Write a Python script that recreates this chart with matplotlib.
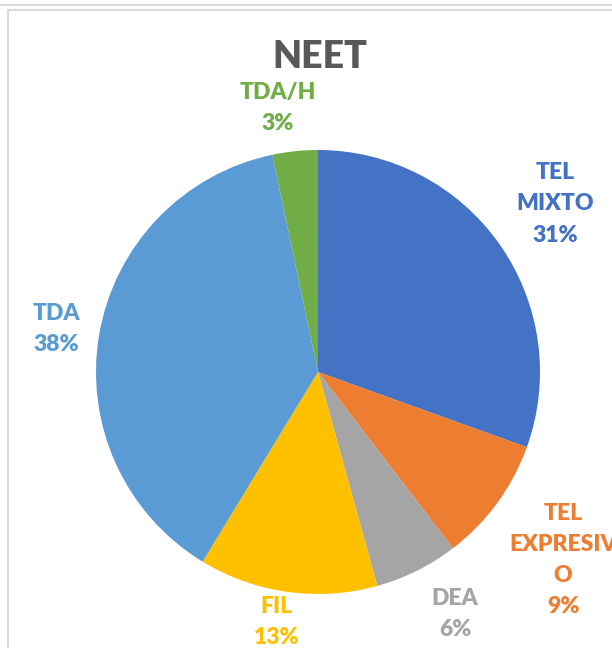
import matplotlib.pyplot as plt
from matplotlib.lines import Line2D

categorias = ['TEL\nMIXTO', 'TEL\nEXPRESIV\nO', 'DEA', 'FIL', 'TDA', 'TDA/H']
valores = [30.5, 9.1, 6.1, 13.0, 38.0, 3.3]
etiquetas_pct = ['31%', '9%', '6%', '13%', '38%', '3%']
colores = ['#4472C4', '#ED7D31', '#A5A5A5', '#FFC000', '#5B9BD5', '#70AD47']
# posicion de cada etiqueta (coordenadas del eje, radio = 1)
pos_etiquetas = [(1.068, 0.757), (1.104, -0.847), (0.617, -1.09),
                 (-0.185, -1.126), (-1.18, 0.194), (-0.18, 1.19)]

plt.rcParams['font.family'] = ['Lato', 'DejaVu Sans']

fig = plt.figure(figsize=(6.12, 6.48), dpi=100)

# marco gris del cuadro
W, H = 612, 648
borde = '#D9D9D9'
fig.add_artist(Line2D([0, 1], [1 - 5 / H, 1 - 5 / H], color=borde, lw=1.5))
fig.add_artist(Line2D([8 / W, 1], [1 - 10 / H, 1 - 10 / H], color=borde, lw=1.5))
fig.add_artist(Line2D([8 / W, 8 / W], [0, 1 - 10 / H], color=borde, lw=1.5))

ax = fig.add_axes([96 / W, 54 / H, 444 / W, 444 / H])
ax.pie(valores, colors=colores, startangle=90, counterclock=False,
       radius=1, wedgeprops={'linewidth': 0})
ax.set_xlim(-1, 1)
ax.set_ylim(-1, 1)
ax.set_aspect('equal')
ax.axis('off')

for cat, pct, col, (x, y) in zip(categorias, etiquetas_pct, colores, pos_etiquetas):
    ax.text(x, y, f'{cat}\n{pct}', color=col, fontsize=16.5, fontweight='heavy',
            ha='center', va='center', linespacing=1.6, clip_on=False)

fig.text(320 / W, 1 - 57 / H, 'NEET', color='#595959', fontsize=27,
         fontweight='heavy', ha='center', va='center')

fig.savefig('out.png', dpi=100)
